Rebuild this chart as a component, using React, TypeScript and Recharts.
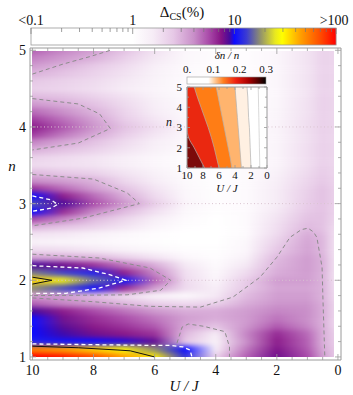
import React from "react";
import {
  ComposedChart,
  XAxis,
  YAxis,
  ReferenceArea,
  ReferenceLine,
  Scatter,
  Area,
  Line,
} from "recharts";

const W = 353;
const H = 395;
const FRAME = "#9a9a9a";
const SERIF = '"Liberation Serif", "DejaVu Serif", serif';

// ---- main map: log10 of Δ_CS(%) ----
const UJ_COLS = [10, 9, 8, 7, 6, 5, 4, 3, 2, 1, 0.5, 0.1];
const N_ROWS = [
  1.0, 1.1, 1.2, 1.3, 1.4, 1.5, 1.6, 1.7, 1.8, 1.9, 2.0, 2.1, 2.2, 2.3, 2.4,
  2.5, 2.6, 2.7, 2.8, 2.9, 3.0, 3.1, 3.2, 3.3, 3.4, 3.5, 3.6, 3.7, 3.8, 3.9,
  4.0, 4.1, 4.2, 4.3, 4.4, 4.5, 4.6, 4.7, 4.8, 4.9, 5.0,
];
const LOG_DELTA = [
  [2.0, 1.95, 1.85, 1.65, 1.5, 1.1, 0.35, 0.7, 0.9, 0.75, 0.55, 0.4], // 1.0
  [1.72, 1.66, 1.56, 1.45, 1.25, 1.0, 0.2, 0.65, 0.88, 0.72, 0.52, 0.4],
  [1.05, 1.02, 1.0, 0.98, 0.92, 0.4, 0.15, 0.6, 0.85, 0.7, 0.5, 0.38],
  [1.0, 0.96, 0.9, 0.86, 0.8, 0.45, 0.2, 0.62, 0.82, 0.68, 0.5, 0.36],
  [1.0, 0.93, 0.86, 0.8, 0.72, 0.52, 0.42, 0.58, 0.72, 0.62, 0.5, 0.33],
  [1.0, 0.9, 0.82, 0.75, 0.66, 0.55, 0.5, 0.56, 0.66, 0.6, 0.5, 0.32], // 1.5
  [0.95, 0.85, 0.75, 0.66, 0.57, 0.5, 0.5, 0.55, 0.62, 0.6, 0.5, 0.32],
  [0.7, 0.62, 0.55, 0.46, 0.36, 0.3, 0.35, 0.5, 0.58, 0.58, 0.5, 0.32],
  [0.55, 0.55, 0.45, 0.3, 0.15, 0.08, 0.22, 0.45, 0.55, 0.55, 0.48, 0.3],
  [1.25, 1.15, 1.02, 0.82, 0.55, 0.3, 0.18, 0.4, 0.52, 0.52, 0.48, 0.28],
  [1.55, 1.42, 1.2, 1.02, 0.7, 0.3, 0.12, 0.38, 0.55, 0.55, 0.48, 0.26], // 2.0
  [1.22, 1.13, 1.05, 0.85, 0.62, 0.28, 0.08, 0.3, 0.5, 0.55, 0.48, 0.26],
  [0.95, 0.9, 0.8, 0.65, 0.5, 0.22, 0.05, 0.22, 0.47, 0.55, 0.48, 0.26],
  [0.52, 0.5, 0.46, 0.36, 0.25, 0.1, 0.03, 0.15, 0.45, 0.55, 0.48, 0.26],
  [0.3, 0.28, 0.22, 0.15, 0.08, 0.03, 0.02, 0.1, 0.4, 0.53, 0.46, 0.26],
  [0.15, 0.12, 0.1, 0.05, 0.02, 0, 0, 0.08, 0.35, 0.52, 0.46, 0.26], // 2.5
  [0.25, 0.22, 0.15, 0.08, 0.03, 0, 0, 0.05, 0.3, 0.5, 0.45, 0.28],
  [0.48, 0.42, 0.35, 0.25, 0.12, 0.03, 0, 0.05, 0.28, 0.45, 0.42, 0.3],
  [0.75, 0.62, 0.45, 0.32, 0.18, 0.05, 0, 0.05, 0.25, 0.42, 0.42, 0.32],
  [1.0, 0.82, 0.62, 0.45, 0.28, 0.08, 0.02, 0.05, 0.22, 0.4, 0.42, 0.34],
  [1.15, 0.95, 0.75, 0.58, 0.38, 0.12, 0.03, 0.05, 0.2, 0.38, 0.42, 0.35], // 3.0
  [1.0, 0.85, 0.68, 0.5, 0.3, 0.1, 0.02, 0.05, 0.2, 0.36, 0.42, 0.35],
  [0.8, 0.68, 0.55, 0.42, 0.25, 0.08, 0.02, 0.05, 0.2, 0.35, 0.42, 0.35],
  [0.6, 0.55, 0.48, 0.32, 0.2, 0.06, 0.02, 0.05, 0.18, 0.33, 0.4, 0.34],
  [0.45, 0.4, 0.35, 0.25, 0.15, 0.05, 0.02, 0.05, 0.15, 0.3, 0.38, 0.33],
  [0.3, 0.28, 0.25, 0.18, 0.1, 0.04, 0.02, 0.04, 0.12, 0.28, 0.36, 0.32], // 3.5
  [0.35, 0.3, 0.25, 0.18, 0.1, 0.04, 0.02, 0.04, 0.12, 0.28, 0.35, 0.32],
  [0.48, 0.42, 0.35, 0.25, 0.15, 0.06, 0.02, 0.04, 0.12, 0.28, 0.35, 0.32],
  [0.62, 0.52, 0.42, 0.3, 0.18, 0.08, 0.03, 0.04, 0.12, 0.27, 0.35, 0.32],
  [0.78, 0.65, 0.52, 0.38, 0.24, 0.1, 0.04, 0.04, 0.12, 0.27, 0.35, 0.32],
  [0.85, 0.72, 0.58, 0.42, 0.28, 0.12, 0.05, 0.04, 0.12, 0.27, 0.35, 0.32], // 4.0
  [0.78, 0.67, 0.54, 0.38, 0.24, 0.1, 0.04, 0.04, 0.12, 0.27, 0.35, 0.32],
  [0.68, 0.6, 0.48, 0.34, 0.2, 0.08, 0.03, 0.03, 0.11, 0.26, 0.35, 0.32],
  [0.56, 0.5, 0.42, 0.3, 0.18, 0.07, 0.03, 0.03, 0.1, 0.26, 0.35, 0.32],
  [0.45, 0.42, 0.35, 0.26, 0.15, 0.06, 0.02, 0.03, 0.1, 0.25, 0.35, 0.32],
  [0.36, 0.33, 0.28, 0.2, 0.12, 0.05, 0.02, 0.03, 0.1, 0.25, 0.34, 0.32], // 4.5
  [0.4, 0.35, 0.3, 0.22, 0.13, 0.05, 0.02, 0.03, 0.1, 0.25, 0.34, 0.32],
  [0.48, 0.42, 0.35, 0.26, 0.15, 0.06, 0.02, 0.03, 0.1, 0.25, 0.34, 0.32],
  [0.56, 0.48, 0.4, 0.3, 0.18, 0.07, 0.02, 0.03, 0.1, 0.25, 0.34, 0.32],
  [0.63, 0.56, 0.48, 0.36, 0.22, 0.08, 0.03, 0.03, 0.1, 0.25, 0.34, 0.32],
  [0.7, 0.62, 0.54, 0.42, 0.26, 0.1, 0.03, 0.03, 0.1, 0.25, 0.34, 0.32], // 5.0
];

// contour lines, [U/J, n]
const GREY_CONTOURS = [
  [[10, 4.69], [9, 4.82], [8.1, 4.92], [7.45, 5.0]],
  [[10, 4.37], [8.5, 4.3], [7.8, 4.17], [7.45, 3.98], [8.5, 3.79], [10, 3.7]],
  [[10, 3.38], [8, 3.32], [6.9, 3.14], [6.5, 3.0], [8.35, 2.81], [10, 2.71]],
  [[10, 2.34], [7.8, 2.29], [6.15, 2.16], [5.47, 2.0], [5.8, 1.87], [6.9, 1.81], [10, 1.8]],
  [
    [10, 1.77], [8, 1.72], [6.15, 1.66], [4.5, 1.65], [3.44, 1.78], [2.55, 2.04],
    [2.0, 2.3], [1.57, 2.56], [1.2, 2.66], [0.98, 2.68], [0.8, 2.63], [0.69, 2.56],
    [0.52, 2.17], [0.49, 1.74], [0.43, 1.0],
  ],
  [[5.27, 1.18], [5.1, 1.39], [4.9, 1.43], [4.4, 1.4], [3.7, 1.33], [3.55, 1.13], [3.55, 1.0]],
];
const WHITE_CONTOURS = [
  [[10, 3.1], [9.4, 3.05], [9.17, 2.99], [9.4, 2.94], [10, 2.9]],
  [[10, 2.19], [8.35, 2.16], [7.45, 2.07], [6.95, 2.0], [7.8, 1.9], [8.9, 1.83], [10, 1.83]],
  [[10, 1.17], [8, 1.16], [6, 1.15], [5.5, 1.15], [5.07, 1.13], [4.84, 1.09], [4.78, 1.0]],
];
const BLACK_CONTOURS = [
  [[10, 2.04], [9.36, 2.0], [10, 1.95]],
  [[10, 1.14], [8.5, 1.12], [7.2, 1.09], [6.8, 1.08], [6.0, 1.0]],
];

const X_TICKS = [0, 0.5, 1, 1.5, 2, 2.5, 3, 3.5, 4, 4.5, 5, 5.5, 6, 6.5, 7, 7.5, 8, 8.5, 9, 9.5, 10];
const X_LABELS = [0, 2, 4, 6, 8, 10];
const Y_TICKS = [1, 1.2, 1.4, 1.6, 1.8, 2, 2.2, 2.4, 2.6, 2.8, 3, 3.2, 3.4, 3.6, 3.8, 4, 4.2, 4.4, 4.6, 4.8, 5];
const Y_LABELS = [1, 2, 3, 4, 5];
const X_DOMAIN = [-0.1, 10.08];
const Y_DOMAIN = [0.96, 5.03];

// ---- inset: δn/n filled contours, band edges in U/J at each n ----
const INSET_N = [1, 1.5, 2, 2.5, 3, 3.5, 4, 4.5, 5];
const EDGE_LEFT = [10, 10, 10, 10, 10, 10, 10, 10, 10];
const EDGE_DARKRED = [7.8, 8.45, 9.1, 9.8, 10, 10, 10, 10, 10];
const EDGE_RED = [6.0, 6.3, 6.6, 6.95, 7.35, 7.8, 8.25, 8.7, 9.1];
const EDGE_ORANGE = [4.4, 4.6, 4.85, 5.1, 5.35, 5.6, 5.85, 6.1, 6.35];
const EDGE_LIGHT = [3.2, 3.3, 3.4, 3.5, 3.6, 3.7, 3.8, 3.9, 4.0];
const EDGE_CREAM = [2.0, 2.05, 2.1, 2.15, 2.2, 2.3, 2.35, 2.4, 2.5];
const EDGE_FAINT = [0.9, 0.92, 0.95, 0.97, 1.0, 1.02, 1.05, 1.07, 1.1];

// colour scale for log10(Δ%)
const CMAP: Array<[number, string]> = [
  [0.0, "#ffffff"],
  [0.2, "#f6ecf6"],
  [0.4, "#e6c8e6"],
  [0.6, "#c98fc9"],
  [0.75, "#a94aa9"],
  [0.87, "#861486"],
  [0.95, "#4b0a9a"],
  [1.0, "#0c0cff"],
  [1.12, "#3c3cd2"],
  [1.25, "#8e8e70"],
  [1.4, "#e8e820"],
  [1.47, "#ffff00"],
  [1.65, "#ffa000"],
  [1.85, "#ff4a00"],
  [2.0, "#ff0000"],
];

function rgb(h: string) {
  return [1, 3, 5].map((i) => parseInt(h.slice(i, i + 2), 16));
}

function colorAt(l: number) {
  const v = Math.max(0, Math.min(2, l));
  for (let i = 1; i < CMAP.length; i++) {
    const [l1, c1] = CMAP[i];
    const [l0, c0] = CMAP[i - 1];
    if (v <= l1) {
      const t = (v - l0) / (l1 - l0);
      const a = rgb(c0);
      const b = rgb(c1);
      const m = a.map((x, k) => Math.round(x + (b[k] - x) * t));
      return `rgb(${m[0]},${m[1]},${m[2]})`;
    }
  }
  return CMAP[CMAP.length - 1][1];
}

const toPts = (c: number[][]) => c.map(([u, n]) => ({ u, n }));
const Empty = () => <g />;

function FrameTick(props: any) {
  const { x, y, payload, side, labels, fontSize, major, minor, gap } = props;
  const v = payload.value;
  const isMajor = labels.indexOf(v) >= 0;
  const len = isMajor ? major : minor;
  let x2 = x;
  let y2 = y;
  let tx = x;
  let ty = y;
  let anchor = "middle";
  if (side === "bottom") {
    y2 = y - len;
    ty = y + gap;
  } else if (side === "top") {
    y2 = y + len;
  } else if (side === "left") {
    x2 = x + len;
    tx = x - gap;
    ty = y + fontSize * 0.35;
    anchor = "end";
  } else {
    x2 = x - len;
  }
  const showText = isMajor && (side === "bottom" || side === "left");
  return (
    <g>
      <line x1={x} y1={y} x2={x2} y2={y2} stroke={FRAME} strokeWidth={0.8} />
      {showText && (
        <text x={tx} y={ty} textAnchor={anchor} fontSize={fontSize} fontFamily={SERIF} fill="#111">
          {String(v)}
        </text>
      )}
    </g>
  );
}

// rows span U/J 10.3 .. -0.2 so the blur has colour to eat at the edges
const ROW_LEFT = 10.3;
const ROW_RIGHT = -0.2;

function HeatLayer() {
  return (
    <ComposedChart width={W} height={H} margin={{ top: 48, right: 12, bottom: 35, left: 30 }}>
      <defs>
        {LOG_DELTA.map((row, i) => (
          <linearGradient key={i} id={`row${i}`} x1="0" y1="0" x2="1" y2="0">
            {row.map((l, j) => (
              <stop
                key={j}
                offset={(ROW_LEFT - UJ_COLS[j]) / (ROW_LEFT - ROW_RIGHT)}
                stopColor={colorAt(l)}
              />
            ))}
          </linearGradient>
        ))}
      </defs>
      <XAxis type="number" dataKey="u" domain={X_DOMAIN} reversed hide allowDataOverflow />
      <YAxis type="number" dataKey="n" domain={Y_DOMAIN} hide allowDataOverflow />
      {N_ROWS.map((n, i) => (
        <ReferenceArea
          key={i}
          x1={ROW_LEFT}
          x2={ROW_RIGHT}
          y1={i === 0 ? 0.8 : n - 0.052}
          y2={i === N_ROWS.length - 1 ? 5.2 : n + 0.052}
          fill={`url(#row${i})`}
          fillOpacity={1}
          stroke="none"
          ifOverflow="visible"
        />
      ))}
    </ComposedChart>
  );
}

function MainFrame() {
  const axisX = { type: "number" as const, dataKey: "u", domain: X_DOMAIN, reversed: true, ticks: X_TICKS, interval: 0, tickSize: 0, tickMargin: 0, tickLine: false, allowDataOverflow: true, axisLine: { stroke: FRAME } };
  const axisY = { type: "number" as const, dataKey: "n", domain: Y_DOMAIN, ticks: Y_TICKS, interval: 0, tickSize: 0, tickMargin: 0, tickLine: false, allowDataOverflow: true, axisLine: { stroke: FRAME } };
  const tk = { fontSize: 14, major: 6, minor: 3 };
  return (
    <ComposedChart width={W} height={H} margin={{ top: 47, right: 11, bottom: 0, left: 0 }}>
      <XAxis xAxisId="x" orientation="bottom" height={35} {...axisX}
        tick={<FrameTick side="bottom" labels={X_LABELS} gap={15} {...tk} />} />
      <XAxis xAxisId="xt" orientation="top" height={1} {...axisX}
        tick={<FrameTick side="top" labels={X_LABELS} gap={0} {...tk} />} />
      <YAxis yAxisId="y" orientation="left" width={30} {...axisY}
        tick={<FrameTick side="left" labels={Y_LABELS} gap={4} {...tk} />} />
      <YAxis yAxisId="yr" orientation="right" width={1} {...axisY}
        tick={<FrameTick side="right" labels={Y_LABELS} gap={0} {...tk} />} />
      {[2, 3, 4].map((n) => (
        <ReferenceLine key={n} xAxisId="x" yAxisId="y" y={n} stroke="#d9c4d0" strokeDasharray="1 2.5" />
      ))}
      {GREY_CONTOURS.map((c, i) => (
        <Scatter key={`g${i}`} xAxisId="x" yAxisId="y" data={toPts(c)} shape={Empty}
          line={{ stroke: "#8c8c8c", strokeWidth: 1, strokeDasharray: "4 3" }} isAnimationActive={false} />
      ))}
      {WHITE_CONTOURS.map((c, i) => (
        <Scatter key={`w${i}`} xAxisId="x" yAxisId="y" data={toPts(c)} shape={Empty}
          line={{ stroke: "#ffffff", strokeWidth: 1.3, strokeDasharray: "4 3" }} isAnimationActive={false} />
      ))}
      {BLACK_CONTOURS.map((c, i) => (
        <Scatter key={`b${i}`} xAxisId="x" yAxisId="y" data={toPts(c)} shape={Empty}
          line={{ stroke: "#111111", strokeWidth: 1 }} isAnimationActive={false} />
      ))}
    </ComposedChart>
  );
}

const INSET_ROWS = INSET_N.map((n, i) => ({
  n,
  left: EDGE_LEFT[i],
  darkred: EDGE_DARKRED[i],
  red: EDGE_RED[i],
  orange: EDGE_ORANGE[i],
  light: EDGE_LIGHT[i],
  cream: EDGE_CREAM[i],
  faint: EDGE_FAINT[i],
}));

// each area fills from U/J = 0 up to its edge; later ones cover the earlier
const INSET_BANDS = [
  { key: "left", fill: "#7c0a0a", stroke: "none" },
  { key: "darkred", fill: "#ea2810", stroke: "#b0b0b0" },
  { key: "red", fill: "#ff7d15", stroke: "#b0b0b0" },
  { key: "orange", fill: "#ffb46e", stroke: "#b0b0b0" },
  { key: "light", fill: "#fff0e2", stroke: "#b0b0b0" },
  { key: "cream", fill: "#ffffff", stroke: "#b0b0b0" },
];

function Inset() {
  const ax = { type: "number" as const, domain: [0, 10], reversed: true, ticks: [0, 1, 2, 3, 4, 5, 6, 7, 8, 9, 10], interval: 0, tickSize: 0, tickMargin: 0, tickLine: false, allowDataOverflow: true, axisLine: { stroke: FRAME } };
  const ay = { type: "number" as const, dataKey: "n", domain: [1, 5], reversed: true, ticks: [1, 1.5, 2, 2.5, 3, 3.5, 4, 4.5, 5], interval: 0, tickSize: 0, tickMargin: 0, tickLine: false, allowDataOverflow: true, axisLine: { stroke: FRAME } };
  const tk = { fontSize: 11, major: 3, minor: 2 };
  return (
    <ComposedChart layout="vertical" width={125} height={160} data={INSET_ROWS}
      margin={{ top: 46, right: 7, bottom: 31, left: 36 }}>
      <XAxis xAxisId="x" orientation="bottom" height={1} {...ax}
        tick={<FrameTick side="bottom" labels={[0, 2, 4, 6, 8, 10]} gap={11} {...tk} />} />
      <XAxis xAxisId="xt" orientation="top" height={1} {...ax}
        tick={<FrameTick side="top" labels={[0, 2, 4, 6, 8, 10]} gap={0} {...tk} />} />
      <YAxis yAxisId="y" orientation="left" width={1} {...ay}
        tick={<FrameTick side="left" labels={[1, 2, 3, 4, 5]} gap={5} {...tk} />} />
      <YAxis yAxisId="yr" orientation="right" width={1} {...ay}
        tick={<FrameTick side="right" labels={[1, 2, 3, 4, 5]} gap={0} {...tk} />} />
      {INSET_BANDS.map((b) => (
        <Area key={b.key} xAxisId="x" yAxisId="y" dataKey={b.key} type="monotone"
          fill={b.fill} fillOpacity={1} stroke={b.stroke} strokeWidth={0.7} isAnimationActive={false} />
      ))}
      <Line xAxisId="x" yAxisId="y" dataKey="faint" type="monotone" stroke="#c8c8c8" strokeWidth={0.7}
        dot={false} isAnimationActive={false} />
    </ComposedChart>
  );
}

const DECADE = 101.7;
const CB_X0 = 31;

function Overlay() {
  const ticks: number[] = [];
  for (let d = 0; d < 3; d++) for (let m = 1; m <= 9; m++) ticks.push(d + Math.log10(m));
  ticks.push(3);
  return (
    <svg width={W} height={H} style={{ position: "absolute", left: 0, top: 0, pointerEvents: "none" }}>
      <defs>
        <linearGradient id="cbMain" x1="0" y1="0" x2="1" y2="0">
          <stop offset={0} stopColor="#ffffff" />
          {CMAP.map(([l, c], i) => (
            <stop key={i} offset={(l + 1) / 3} stopColor={c} />
          ))}
        </linearGradient>
        <linearGradient id="cbInset" x1="0" y1="0" x2="1" y2="0">
          <stop offset={0} stopColor="#ffffff" />
          <stop offset={0.27} stopColor="#ffffff" />
          <stop offset={0.34} stopColor="#ffd2a4" />
          <stop offset={0.46} stopColor="#ff8020" />
          <stop offset={0.62} stopColor="#ee2010" />
          <stop offset={0.78} stopColor="#a80000" />
          <stop offset={0.9} stopColor="#500000" />
          <stop offset={1} stopColor="#000000" />
        </linearGradient>
      </defs>
      {/* main colour bar */}
      <text x={182} y={17} textAnchor="middle" fontFamily={SERIF} fontSize={15} fill="#111">
        Δ<tspan fontSize={10} dy={3}>CS</tspan>
        <tspan dy={-3}>(%)</tspan>
      </text>
      <rect x={CB_X0} y={28} width={3 * DECADE} height={17} fill="url(#cbMain)" stroke={FRAME} strokeWidth={0.8} />
      {ticks.map((t, i) => {
        const major = Math.abs(t - Math.round(t)) < 1e-6;
        const x = CB_X0 + t * DECADE;
        return <line key={i} x1={x} x2={x} y1={28} y2={28 + (major ? 6 : 4)} stroke="#777" strokeWidth={0.7} />;
      })}
      {[["<0.1", 0], ["1", 1], ["10", 2], [">100", 3]].map(([s, d]) => (
        <text key={s as string} x={CB_X0 + (d as number) * DECADE + (d === 3 ? -2 : 0)} y={25}
          textAnchor="middle" fontFamily={SERIF} fontSize={14} fill="#111">
          {s}
        </text>
      ))}
      {/* axis titles */}
      <text x={12} y={171} textAnchor="middle" fontFamily={SERIF} fontStyle="italic" fontSize={15} fill="#111">n</text>
      <text x={184} y={391} textAnchor="middle" fontFamily={SERIF} fontStyle="italic" fontSize={15} fill="#111">U / J</text>
      {/* inset colour bar */}
      <text x={227} y={59} textAnchor="middle" fontFamily={SERIF} fontStyle="italic" fontSize={11} fill="#111">δn / n</text>
      <rect x={187} y={77} width={79} height={7} fill="url(#cbInset)" stroke={FRAME} strokeWidth={0.6} />
      {[["0.", 0], ["0.1", 1], ["0.2", 2], ["0.3", 3]].map(([s, k]) => (
        <text key={s as string} x={187 + ((k as number) * 79) / 3} y={73} textAnchor="middle"
          fontFamily={SERIF} fontSize={11} fill="#111">
          {s}
        </text>
      ))}
      <text x={169} y={126} textAnchor="middle" fontFamily={SERIF} fontStyle="italic" fontSize={12} fill="#111">n</text>
      <text x={227} y={192} textAnchor="middle" fontFamily={SERIF} fontStyle="italic" fontSize={11} fill="#111">U / J</text>
    </svg>
  );
}

export default function App() {
  return (
    <div style={{ position: "absolute", left: 0, top: 0, width: W, height: H, background: "#fff", fontFamily: SERIF, overflow: "hidden" }}>
      <div style={{ position: "absolute", left: 0, top: 0, filter: "blur(2.5px)", clipPath: "inset(51px 19px 38px 32px)" }}>
        <HeatLayer />
      </div>
      <div style={{ position: "absolute", left: 0, top: 0 }}>
        <MainFrame />
      </div>
      <div style={{ position: "absolute", left: 150, top: 40 }}>
        <Inset />
      </div>
      <Overlay />
    </div>
  );
}
